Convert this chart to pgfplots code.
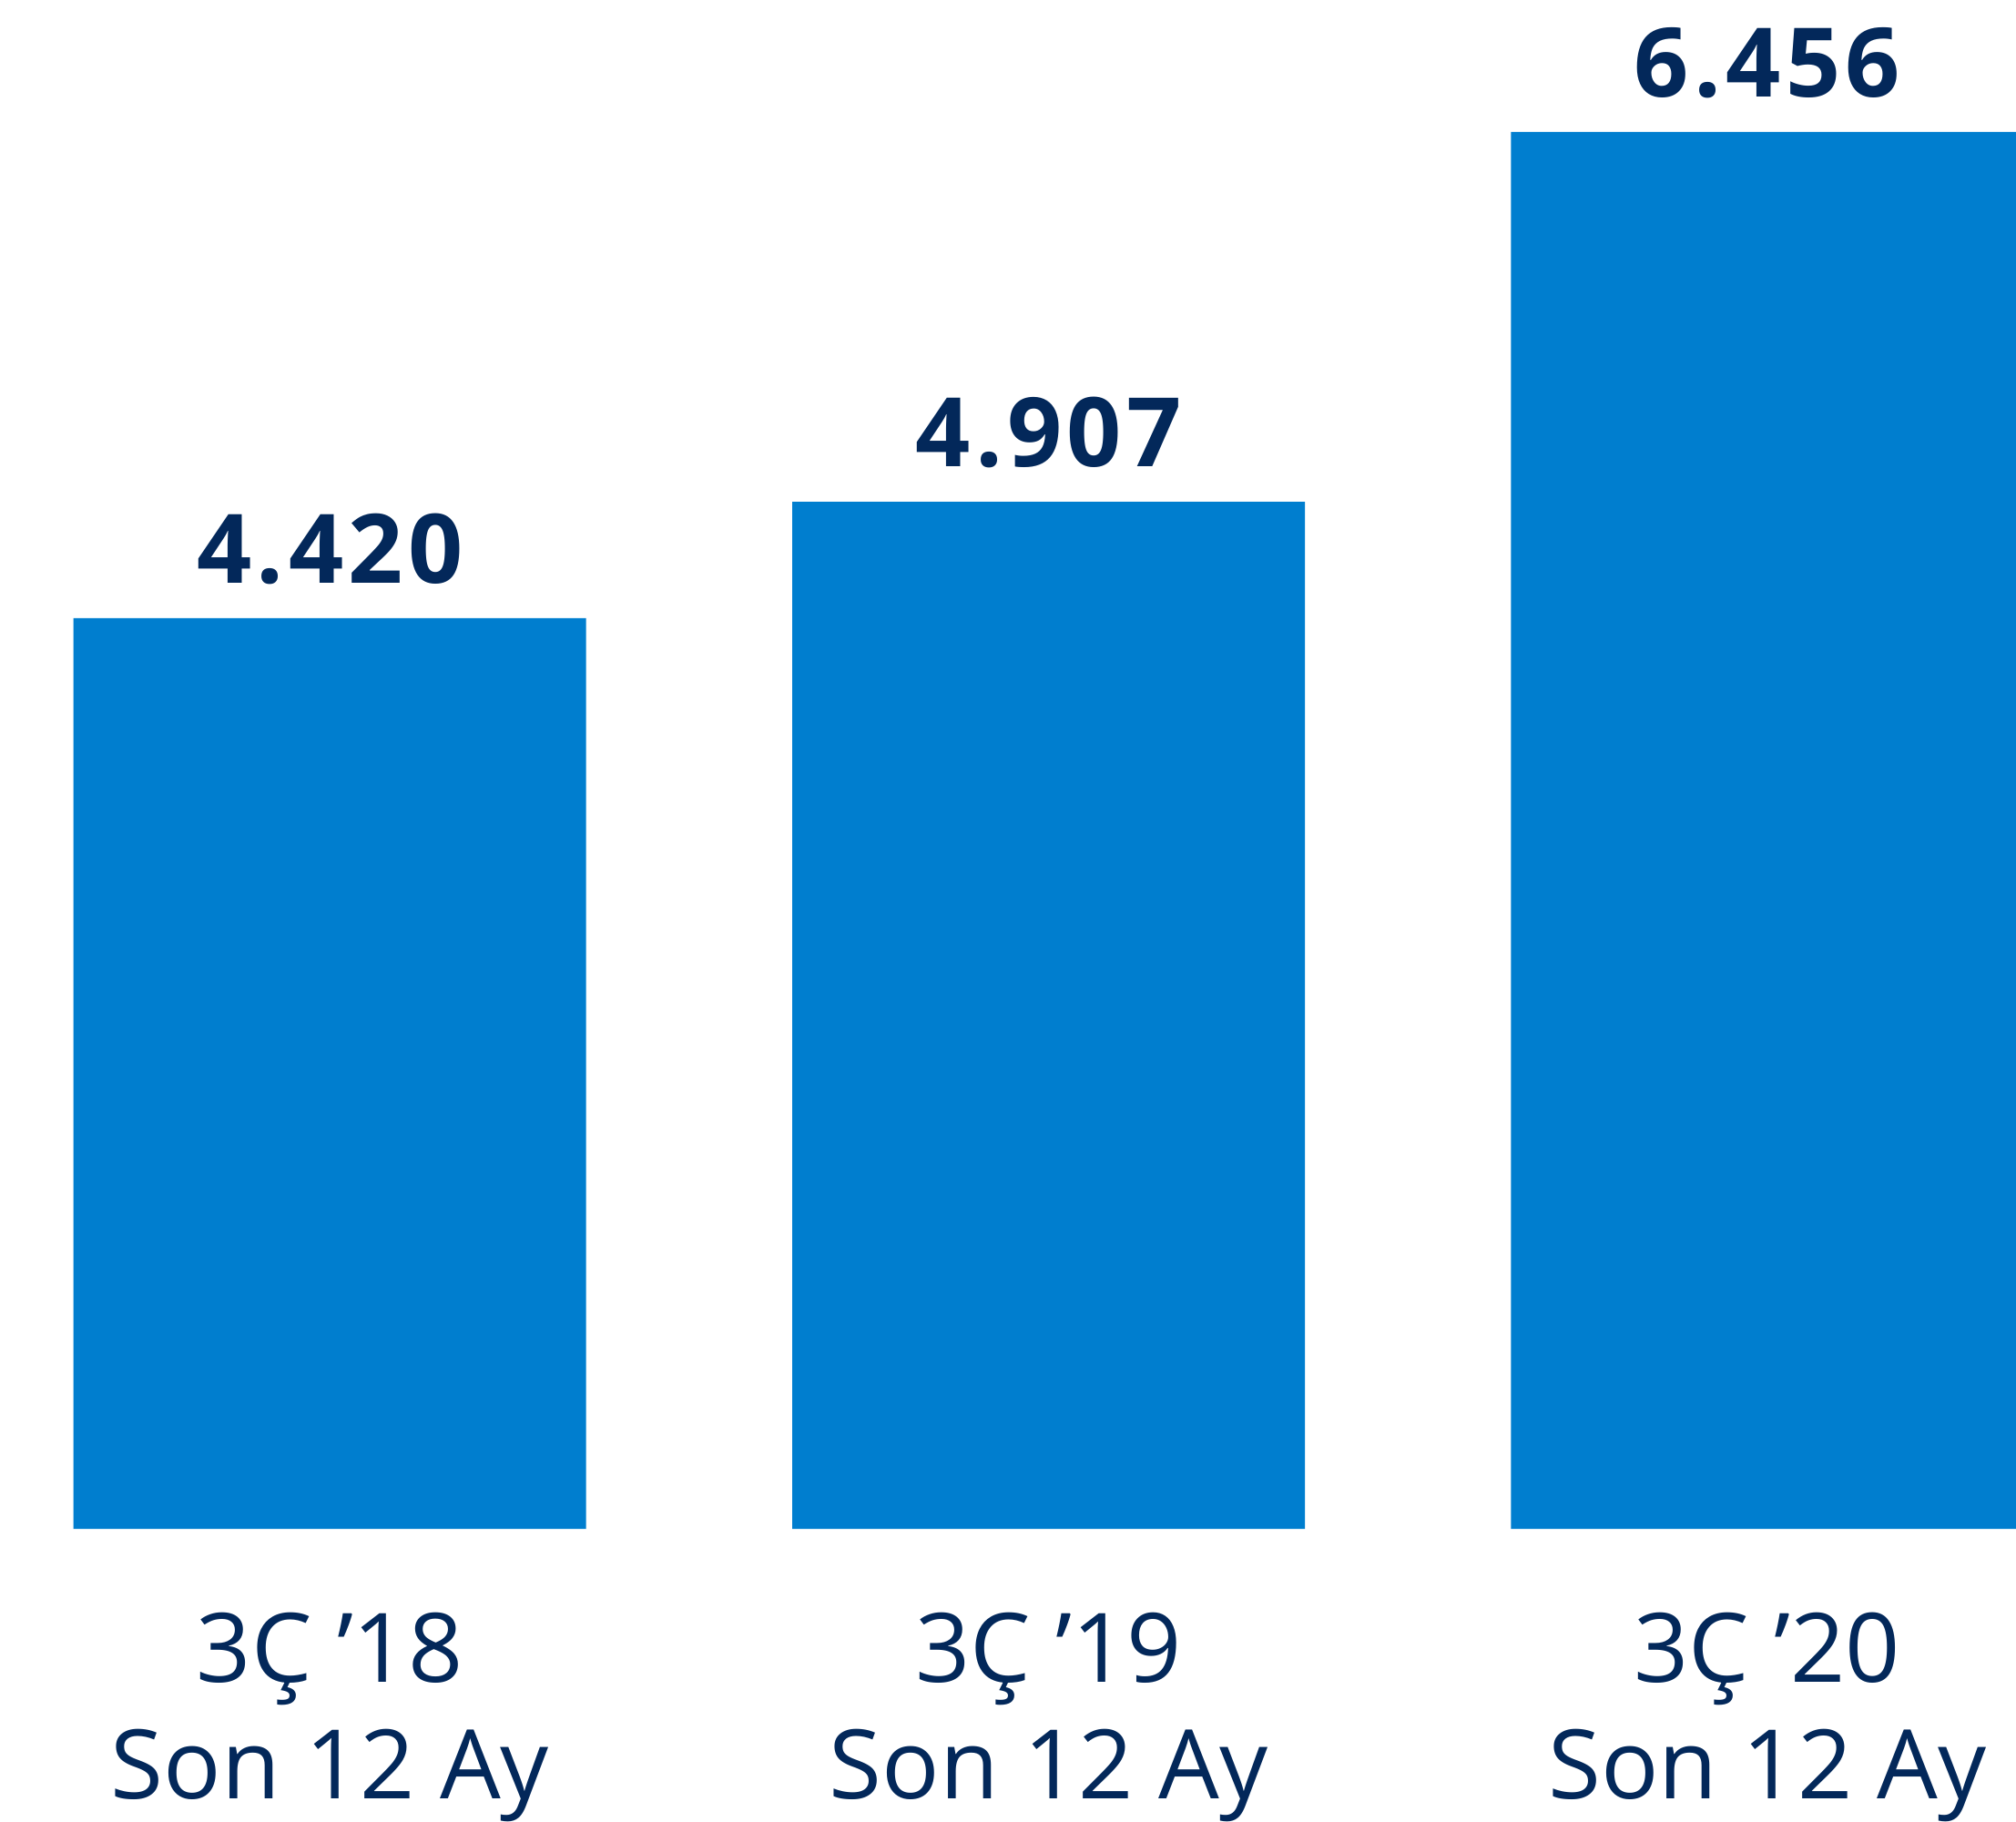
\documentclass[border=0pt]{standalone}
\usepackage{pgfplots}
\pgfplotsset{compat=1.18}
\usepackage{fontspec}
\setmainfont{Open Sans}

\definecolor{barblue}{HTML}{007ECF}
\definecolor{navy}{HTML}{03285A}

\begin{document}
\begin{tikzpicture}
\begin{axis}[
    name=ax,
    ybar,
    scale only axis,
    width=22.14cm, height=16.79cm,
    xmin=-0.4589, xmax=2.346,
    ymin=0.606, ymax=7.009,
    bar width=5.63cm,
    axis line style={draw=none},
    major tick length=0pt,
    ytick=\empty,
    xtick={0,1,2},
    xticklabels={{3Ç '18\\Son 12 Ay},{3Ç '19\\Son 12 Ay},{3Ç '20\\Son 12 Ay}},
    xticklabel style={align=center, text=navy,
        font=\fontsize{30}{36.4}\selectfont, yshift=-0.8cm},
    point meta=explicit symbolic,
    nodes near coords,
    nodes near coords style={anchor=base, yshift=11pt, text=navy,
        font=\fontsize{30}{36}\selectfont\bfseries\addfontfeatures{LetterSpace=5}},
]
\addplot[fill=barblue, draw=none] coordinates {
    (0,4.420) [4.420]
    (1,4.907) [4.907]
    (2,6.456) [6.456]
};
\end{axis}
\pgfresetboundingbox
\useasboundingbox ([yshift=-3.21cm]ax.south west) rectangle (ax.north east);
\end{tikzpicture}
\end{document}
